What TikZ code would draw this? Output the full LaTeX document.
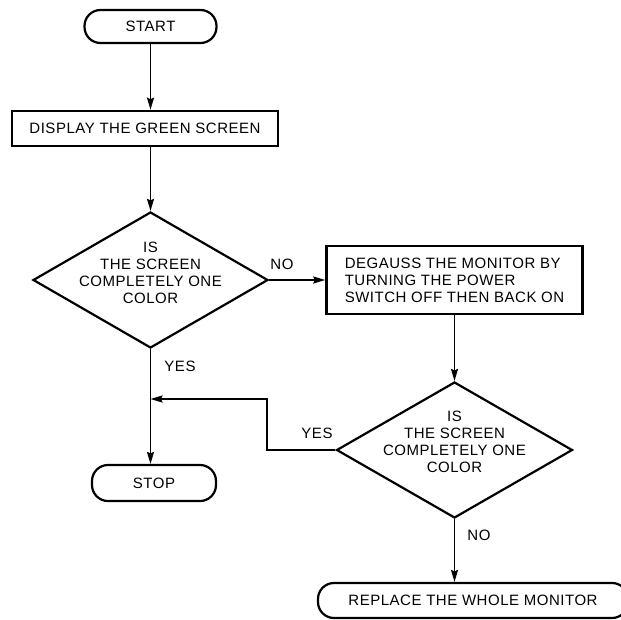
\documentclass[tikz,border=0pt]{standalone}
\usepackage{fontspec}
\setmainfont{Liberation Sans}[LetterSpace=3.5]
\usetikzlibrary{arrows.meta,shapes.geometric}
\begin{document}
\begin{tikzpicture}[x=1pt,y=-1pt,
  every node/.style={font=\fontsize{15}{17}\selectfont},
  terminal/.style={draw,line width=2.2pt,rectangle,rounded corners=16pt,inner sep=0pt},
  process/.style={draw,line width=2.6pt,rectangle,inner sep=0pt},
  decision/.style={draw,line width=2.2pt,diamond,inner sep=0pt},
  flow/.style={line width=1.6pt,-{Stealth[length=12pt,width=7pt,inset=1.5pt]}},
  lbl/.style={inner sep=0pt,align=center}]
\useasboundingbox (0,0) rectangle (621,619);
\clip (0,0) rectangle (621,619);

% terminals and process boxes
\node[terminal,minimum width=132pt,minimum height=33pt] (start) at (150.5,26.5) {START};
\node[process,minimum width=266pt,minimum height=35pt] (show) at (145,128.5) {DISPLAY THE GREEN SCREEN};
\node[process,minimum width=256pt,minimum height=68pt,align=left] (degauss) at (454.5,280)
  {DEGAUSS THE MONITOR BY\\TURNING THE POWER\\SWITCH OFF THEN BACK ON};
\node[terminal,minimum width=124pt,minimum height=36pt] (stop) at (154,483) {STOP};
\node[terminal,minimum width=310pt,minimum height=35pt] (replace) at (473,600.5) {REPLACE THE WHOLE MONITOR};

% decisions
\node[decision,minimum width=235pt,minimum height=136pt] (q1) at (150.5,280) {};
\node[lbl] (q1t) at (150.5,273) {IS\\THE SCREEN\\COMPLETELY ONE\\COLOR};
\node[decision,minimum width=236pt,minimum height=136pt] (q2) at (454.5,450) {};
\node[lbl] (q2t) at (454.5,442) {IS\\THE SCREEN\\COMPLETELY ONE\\COLOR};

% branch labels
\node[lbl] (no1) at (282,264) {NO};
\node[lbl] (yes1) at (180,366) {YES};
\node[lbl] (yes2) at (317,433) {YES};
\node[lbl] (no2) at (479,535) {NO};

% connectors
\coordinate (join) at (150.5,399);
\draw[flow] (start.south) -- (start.south |- show.north);
\draw[flow] (show.south -| q1) -- (q1.north);
\draw[flow] (q1.east) -- (q1.east -| degauss.west);
\draw[flow] (degauss.south) -- (q2.north);
\draw[flow] (q1.south) -- (q1.south |- stop.north);
\draw[flow] (q2.west) -- (267,450) -- (267,399) -- (join);
\draw[flow] (q2.south) -- (q2.south |- replace.north);
\end{tikzpicture}
\end{document}
